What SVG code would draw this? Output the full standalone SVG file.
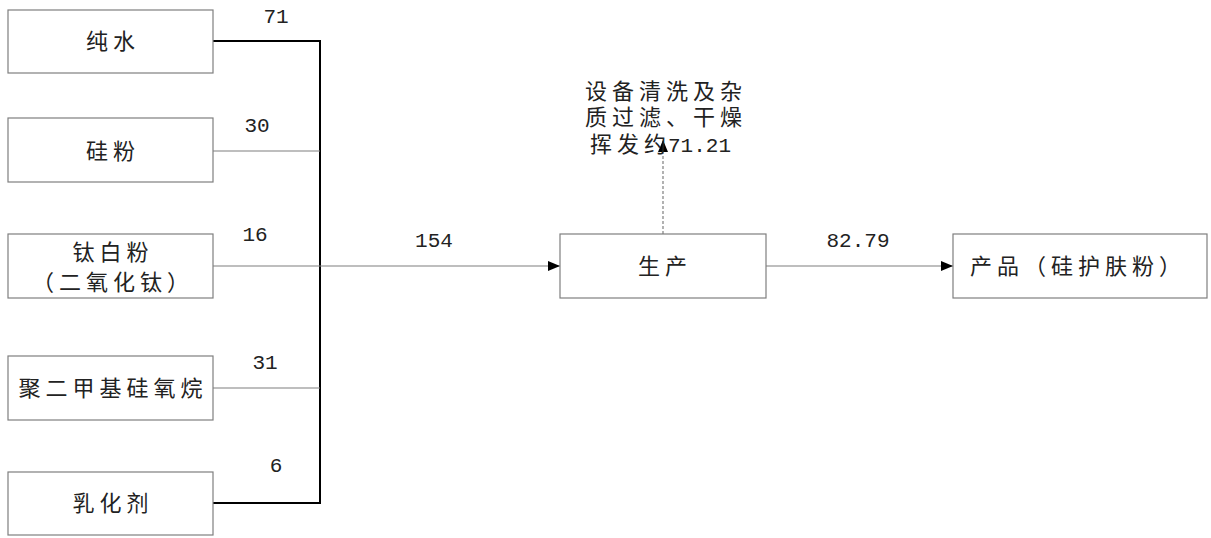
<svg xmlns="http://www.w3.org/2000/svg" width="1211" height="538" viewBox="0 0 1211 538">
<style>
.box{fill:#fff;stroke:#7f7f7f;stroke-width:1.2}
.cj{font-family:"Noto Sans CJK SC","Noto Sans",sans-serif;font-size:22px;letter-spacing:5px;fill:#222;text-anchor:middle}
.num{font-family:"Liberation Mono",monospace;font-size:21px;fill:#222;text-anchor:middle}
.thin{stroke:#7f7f7f;stroke-width:1.2;fill:none}
.thick{stroke:#000;stroke-width:2;fill:none}
</style>
<defs>
<marker id="ah" markerWidth="12" markerHeight="10" refX="12" refY="5" orient="auto" markerUnits="userSpaceOnUse">
<path d="M0,0 L12,5 L0,10 Z" fill="#000"/>
</marker>
</defs>
<rect width="1211" height="538" fill="#fff"/>
<g id="connectors">
<path class="thick" d="M213,41 H320 V503 H213"/>
<path class="thin" d="M213,151 H320"/>
<path class="thin" d="M213,266 H320"/>
<path class="thin" d="M213,388 H320"/>
<path class="thin" d="M320,266 H560" marker-end="url(#ah)"/>
<path class="thin" d="M766,266 H953" marker-end="url(#ah)"/>
<path d="M663,234 V140" stroke="#7f7f7f" stroke-width="1.2" stroke-dasharray="3,2" fill="none" marker-end="url(#ah)"/>
<text class="num" x="276" y="23">71</text>
<text class="num" x="257" y="132">30</text>
<text class="num" x="255" y="241">16</text>
<text class="num" x="265" y="369">31</text>
<text class="num" x="276" y="472">6</text>
<text class="num" x="434" y="247">154</text>
<text class="num" x="858" y="247">82.79</text>
</g>
<g id="n1"><rect class="box" x="8" y="10" width="205" height="63"/><text class="cj" x="113" y="49">纯水</text></g>
<g id="n2"><rect class="box" x="8" y="118" width="205" height="64"/><text class="cj" x="113" y="159">硅粉</text></g>
<g id="n3"><rect class="box" x="8" y="234" width="205" height="64"/><text class="cj" x="113" y="260">钛白粉</text><text class="cj" x="113" y="290">（二氧化钛）</text></g>
<g id="n4"><rect class="box" x="8" y="356" width="205" height="64"/><text class="cj" x="113" y="396">聚二甲基硅氧烷</text></g>
<g id="n5"><rect class="box" x="8" y="472" width="205" height="63"/><text class="cj" x="113" y="511">乳化剂</text></g>
<g id="prod"><rect class="box" x="560" y="234" width="206" height="64"/><text class="cj" x="665" y="274">生产</text></g>
<g id="out"><rect class="box" x="953" y="234" width="254" height="64"/><text class="cj" x="1078" y="274">产品（硅护肤粉）</text></g>
<g id="loss">
<text class="cj" x="666" y="99">设备清洗及杂</text>
<text class="cj" x="666" y="125">质过滤、干燥</text>
<text class="cj" x="590" y="152" style="text-anchor:start">挥发约</text>
<text class="num" x="668" y="152" style="text-anchor:start">71.21</text>
</g>
</svg>
